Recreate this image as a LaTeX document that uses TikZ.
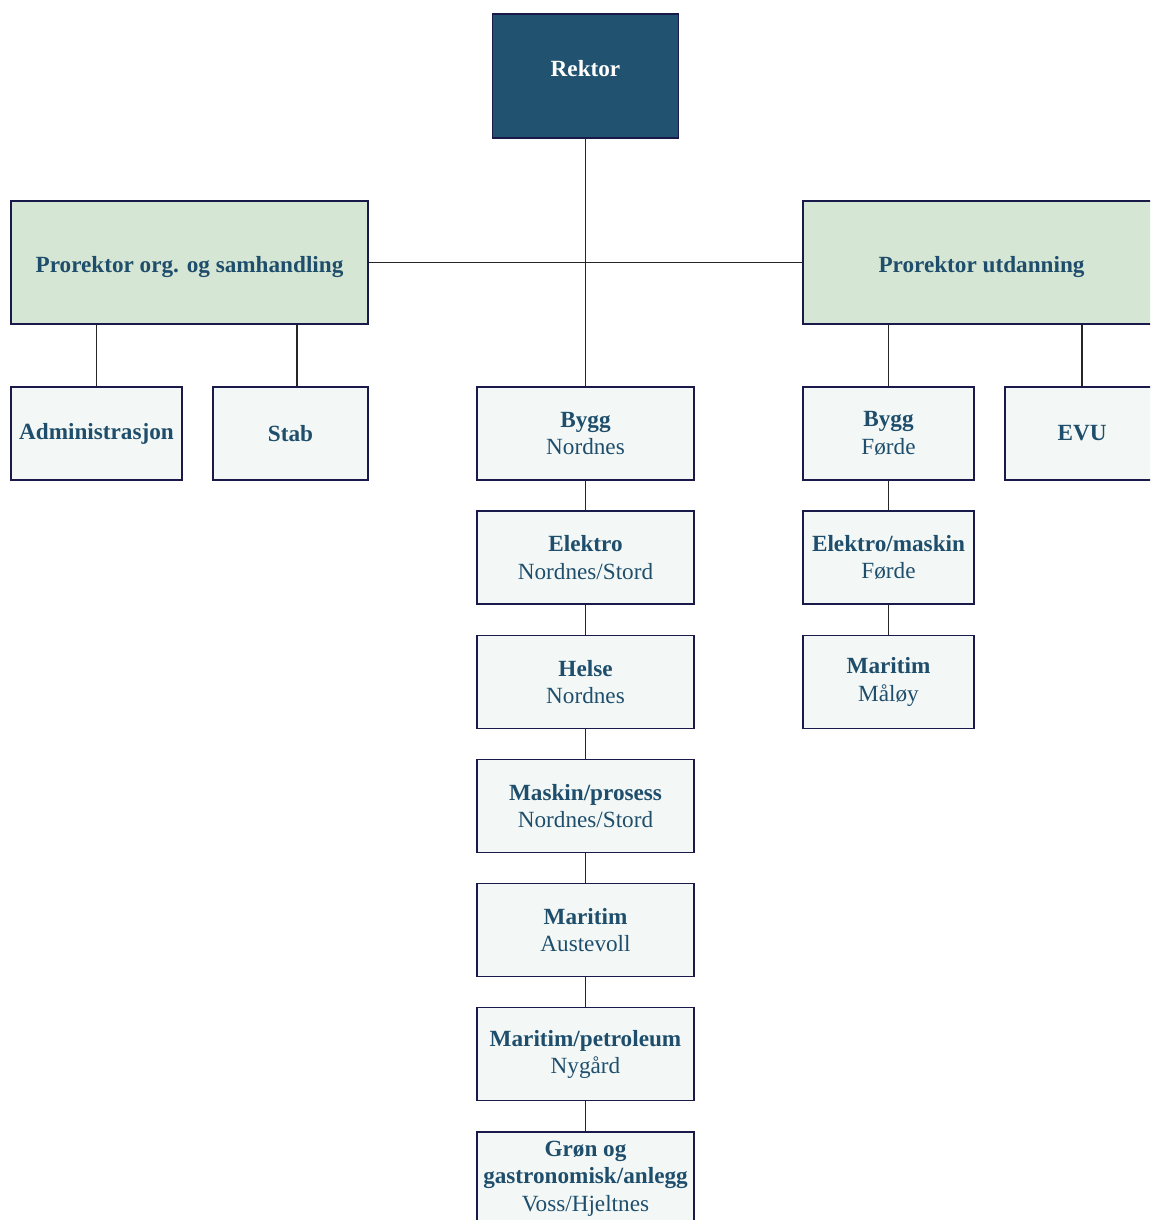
\documentclass[tikz,border=0pt]{standalone}
\usepackage{fontspec}
\setmainfont{Liberation Serif}
\usepackage{tikz}
\usetikzlibrary{positioning}
\definecolor{hvldark}{RGB}{33,82,112}
\definecolor{hvlborder}{RGB}{26,26,74}
\definecolor{hvltext}{RGB}{31,78,108}
\definecolor{hvlgreen}{RGB}{214,230,212}
\definecolor{hvllight}{RGB}{243,248,246}
\tikzstyle{link} = [line width=0.6pt, color=black!85]
\tikzstyle{rektorbox} = [rectangle, draw=hvlborder, fill=hvldark, line width=0.8pt, text=white, minimum width=3.72cm, minimum height=2.48cm]
\tikzstyle{prorektor} = [rectangle, draw=hvlborder, fill=hvlgreen, line width=0.8pt, text=hvltext, minimum width=7.14cm, minimum height=2.46cm]
\tikzstyle{unit} = [rectangle, draw=hvlborder, fill=hvllight, line width=0.8pt, text=hvltext, align=center, minimum width=4.34cm, minimum height=1.86cm, inner sep=1pt]

\begin{document}
\begin{tikzpicture}[font=\fontsize{13.2}{15.6}\selectfont, node distance=0.595cm]
\useasboundingbox (0,0) rectangle (23,-24.4);
\clip (0,0) rectangle (23,-24.4);

% Top level
\node (rektor) [rektorbox] at (11.71,-1.52) {\raisebox{0.32cm}{\textbf{Rektor}}};
\node (porg) [prorektor] at (3.79,-5.25) {\raisebox{-0.09cm}[\height][\depth]{\textbf{Prorektor org. og samhandling}}};
\node (putd) [prorektor] at (19.63,-5.25) {\raisebox{-0.09cm}[\height][\depth]{\textbf{Prorektor utdanning}}};

% Under prorektor org.
\node (admin) [unit, minimum width=3.42cm] at (1.93,-8.67) {\textbf{Administrasjon}};
\node (stab) [unit, minimum width=3.1cm] at (5.81,-8.67) {\textbf{Stab}};

% Middle column
\node (byggn) [unit] at (11.71,-8.67) {\textbf{Bygg}\\Nordnes};
\node (elektro) [unit, below=of byggn] {\textbf{Elektro}\\Nordnes/Stord};
\node (helse) [unit, below=of elektro] {\textbf{Helse}\\Nordnes};
\node (maskin) [unit, below=of helse] {\textbf{Maskin/prosess}\\Nordnes/Stord};
\node (maraust) [unit, below=of maskin] {\textbf{Maritim}\\Austevoll};
\node (marpet) [unit, below=of maraust] {\textbf{Maritim/petroleum}\\Nygård};
\node (gron) [unit, below=of marpet] {\textbf{Grøn og}\\\textbf{gastronomisk/anlegg}\\Voss/Hjeltnes};

% Under prorektor utdanning
\node (byggf) [unit, minimum width=3.42cm] at (17.77,-8.67) {\textbf{Bygg}\\Førde};
\node (elmask) [unit, minimum width=3.42cm, below=of byggf] {\textbf{Elektro/maskin}\\Førde};
\node (marmal) [unit, minimum width=3.42cm, below=of elmask] {\textbf{Maritim}\\Måløy};
\node (evu) [unit, minimum width=3.08cm] at (21.64,-8.67) {\textbf{EVU}};

% Connectors
\draw[link] (rektor) -- (byggn);
\draw[link] (porg) -- (putd);
\draw[link] (admin) -- (admin |- porg.south);
\draw[link] ([xshift=0.13cm]stab.north) -- ([xshift=0.13cm]stab.north |- porg.south);
\draw[link] (byggf) -- (byggf |- putd.south);
\draw[link] (evu) -- (evu |- putd.south);
\draw[link] (byggn) -- (elektro);
\draw[link] (elektro) -- (helse);
\draw[link] (helse) -- (maskin);
\draw[link] (maskin) -- (maraust);
\draw[link] (maraust) -- (marpet);
\draw[link] (marpet) -- (gron);
\draw[link] (byggf) -- (elmask);
\draw[link] (elmask) -- (marmal);
\end{tikzpicture}
\end{document}
